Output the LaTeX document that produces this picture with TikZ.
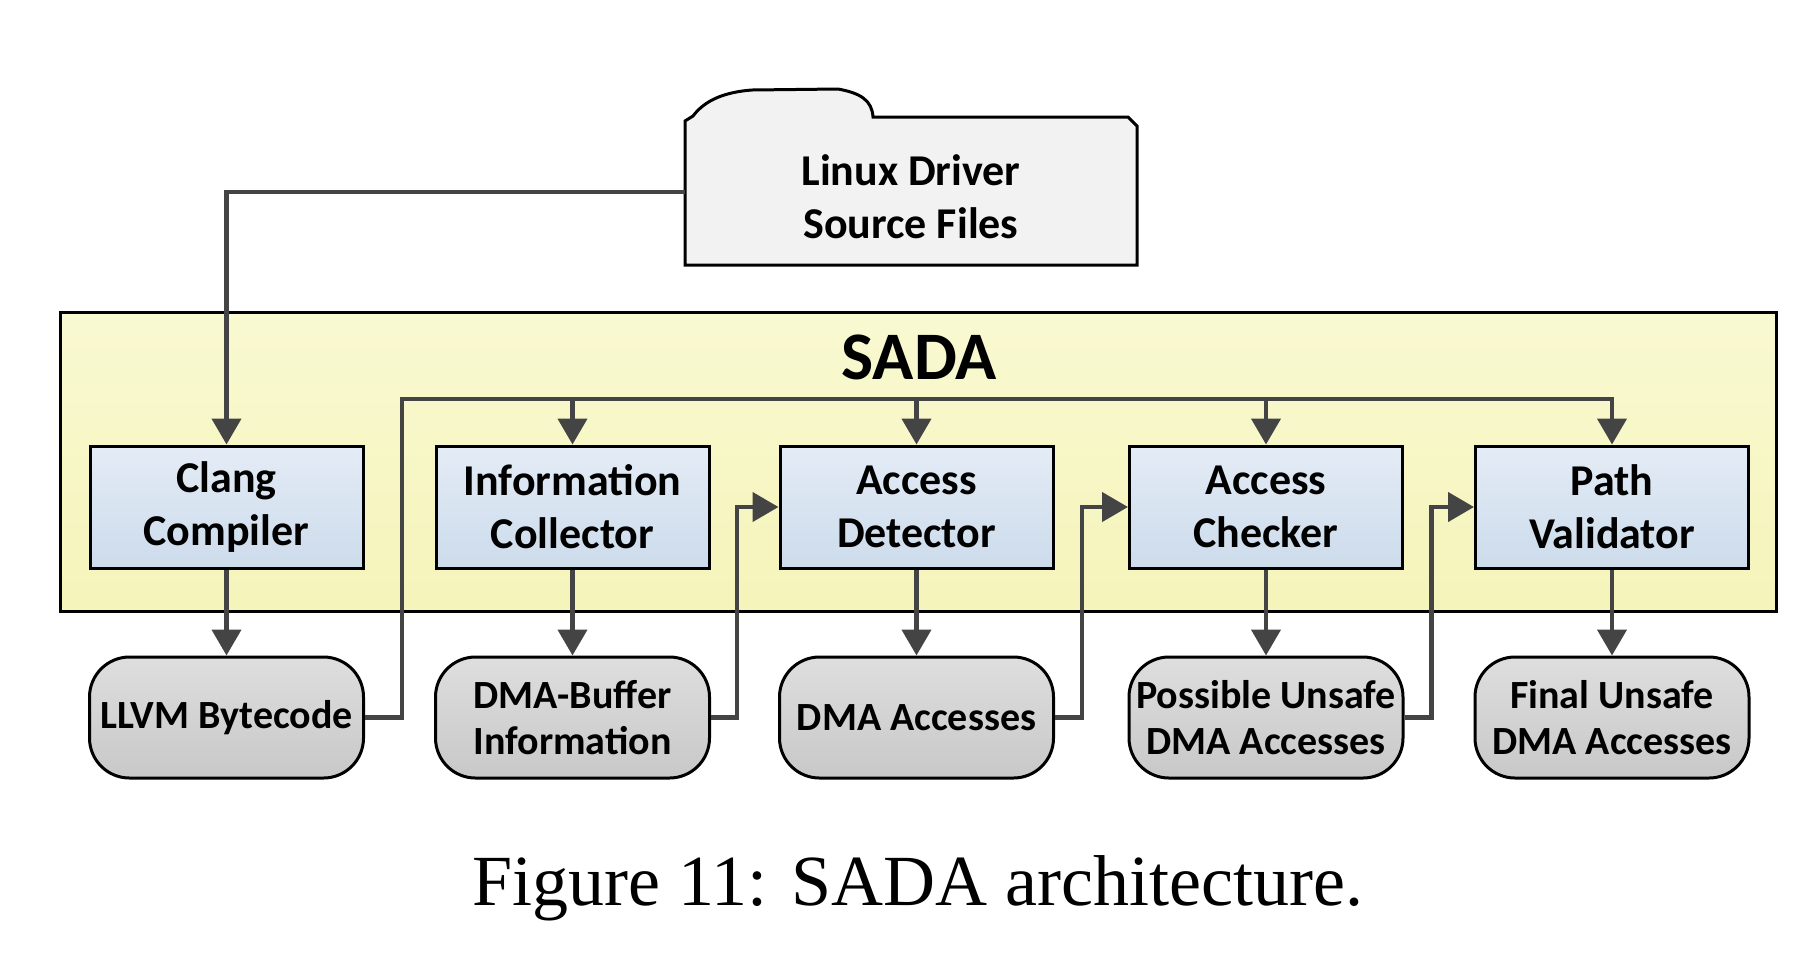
\documentclass[tikz,border=0pt]{standalone}
\usepackage{fontspec}
\setmainfont{Carlito}
\newfontfamily\capfont{Liberation Serif}
\usetikzlibrary{arrows.meta,calc}
\definecolor{conn}{RGB}{68,68,68}
\definecolor{bluetop}{RGB}{228,236,246}
\definecolor{bluebot}{RGB}{204,219,235}
\definecolor{graytop}{RGB}{222,222,222}
\definecolor{graybot}{RGB}{200,200,200}
\definecolor{sadatop}{RGB}{249,249,210}
\definecolor{sadabot}{RGB}{245,244,186}
\definecolor{folderfill}{RGB}{242,242,242}
\tikzset{
  x=0.5pt, y=-0.5pt,
  stage/.style={draw=black, line width=1.5pt, top color=bluetop, bottom color=bluebot,
    minimum width=136.5pt, minimum height=61pt, inner sep=0pt, align=center,
    font=\fontsize{22}{26.5}\selectfont\bfseries},
  result/.style={draw=black, line width=1.5pt, top color=graytop, bottom color=graybot,
    rounded corners=20pt, minimum width=137pt, minimum height=60.5pt, inner sep=0pt, align=center,
    font=\fontsize{20}{23}\selectfont\bfseries},
  conn/.style={draw=conn, line width=2.2pt},
  arr/.style={conn, -{Triangle[width=14.5pt,length=13pt]}},
}
\begin{document}
\begin{tikzpicture}
\useasboundingbox (0,0) rectangle (1820,960);
% SADA container
\path[draw=black, line width=1.5pt, top color=sadatop, bottom color=sadabot] (60,312) rectangle (1776,611);
\node[font=\fontsize{34}{40}\selectfont\bfseries] (sada) at (919,357) {SADA};
% folder
\path[draw=black, line width=1.5pt, fill=folderfill]
  (685,265) -- (685,121) -- (693,116) .. controls (705,100) and (725,92) .. (752,90)
  -- (838,89) .. controls (860,93) and (872,100) .. (873,117)
  -- (1128,117) -- (1137,126) -- (1137,265) -- cycle;
\node[font=\fontsize{22}{26.5}\selectfont\bfseries, align=center] (src) at (911,197) {Linux Driver\\Source Files};
\coordinate (srcw) at (685,192);
% stages
\node[stage] (cc) at (226.5,507) {Clang\\Compiler};
\node[stage] (ic) at (572.5,507) {Information\\Collector};
\node[stage] (ad) at (916.5,507) {Access\\Detector};
\node[stage] (ach) at (1266,507) {Access\\Checker};
\node[stage] (pv) at (1612,507) {Path\\Validator};
% results
\node[result] (llvm) at (226.5,717.5) {LLVM Bytecode};
\node[result] (dbi) at (572.5,717.5) {DMA-Buffer\\Information};
\node[result] (dma) at (916.5,717.5) {DMA Accesses};
\node[result] (pud) at (1266,717.5) {Possible Unsafe\\DMA Accesses};
\node[result] (fud) at (1612,717.5) {Final Unsafe\\DMA Accesses};
% connectors
\draw[arr] (srcw) -| (cc.north);
\foreach \s/\r in {cc/llvm, ic/dbi, ad/dma, ach/pud, pv/fud}
  \draw[arr] (\s.south) -- (\r.north);
\coordinate (bus) at (402,399);
\draw[arr] (llvm.east) -| (bus) -| (pv.north);
\foreach \t in {ic, ad, ach}
  \draw[arr] (bus -| \t.north) -- (\t.north);
\draw[arr] (dbi.east) -- ++(26,0) |- (ad.west);
\draw[arr] (dma.east) -- ++(27,0) |- (ach.west);
\draw[arr] (pud.east) -- ++(27,0) |- (pv.west);
% caption
\node[font=\capfont\fontsize{36}{40}\selectfont, anchor=base] (cap) at (918,905) {Figure 11: SADA architecture.};
\end{tikzpicture}
\end{document}
